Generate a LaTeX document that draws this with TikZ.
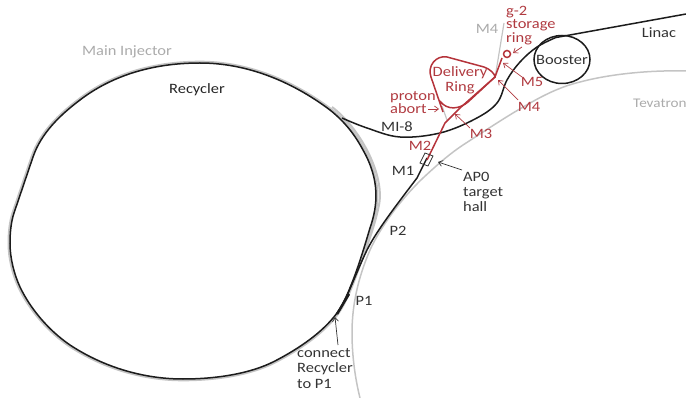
\documentclass[tikz,border=0pt]{standalone}
\usepackage{fontspec}
\setmainfont[FakeStretch=1.15]{Carlito}
\usetikzlibrary{arrows.meta}
\definecolor{redline}{HTML}{B5333A}
\definecolor{redtext}{HTML}{B03A40}
\definecolor{grayline}{HTML}{C4C4C4}
\definecolor{graytext}{HTML}{ABABAB}
\definecolor{blk}{HTML}{1C1C1C}
\definecolor{darktext}{HTML}{333333}
\tikzset{
  lab/.style={font=\fontsize{14.3}{15.3}\selectfont,text=darktext,inner sep=0pt,align=center},
  redlab/.style={lab,text=redtext},
  graylab/.style={lab,text=graytext},
  blackline/.style={draw=blk,line width=1.5pt},
  grayl/.style={draw=grayline,line width=1.5pt},
  redl/.style={draw=redline,line width=1.5pt},
  redarrow/.style={draw=redtext,line width=.7pt,-{Straight Barb[length=4pt,width=6pt]}},
  darkarrow/.style={draw=darktext,line width=.7pt,-{Straight Barb[length=4pt,width=6pt]}},
}
\def\ringpath{(200,63) .. controls (150,63) and (110,77) .. (80,100)
  .. controls (60,115) and (41,133.4) .. (33,157) -- (14,213)
  .. controls (11,222) and (10,233) .. (10,243)
  .. controls (10,258) and (14,274) .. (20,287)
  .. controls (30,308) and (48,330) .. (70,345)
  .. controls (105,368) and (145,379) .. (183,379)
  .. controls (215,379) and (250,374) .. (275,361)
  .. controls (300,348) and (323,332) .. (337,313)
  .. controls (350,295) and (362,255) .. (370,228)
  .. controls (378,205) and (380,180) .. (363,150)
  .. controls (355,135) and (345,122) .. (330,110)
  .. controls (290,80) and (245,63) .. (200,63) -- cycle}
\begin{document}
\begin{tikzpicture}[x=1pt,y=-1pt]
\useasboundingbox (0,0) rectangle (686,398);
% Main Injector (grey)
\begin{scope}[shift={(195,220)},scale=1.007,shift={(-195,-220)}]
\draw[grayl,line width=2.4pt] \ringpath;
\end{scope}
\draw[grayl,line width=2pt] (332,107) .. controls (360,128) and (385,175) .. (379,205)
  .. controls (375,225) and (365,255) .. (350,288);
% Tevatron (grey)
\draw[grayl] (686,71) .. controls (650,70) and (610,74) .. (580,82)
  .. controls (555,88) and (535,100) .. (513,113)
  .. controls (495,124) and (480,134) .. (463,145)
  .. controls (448,155) and (436,166) .. (423,178)
  .. controls (400,200) and (380,228) .. (370,250)
  .. controls (358,278) and (352,305) .. (352,333)
  .. controls (352,355) and (355,378) .. (360,398);
% M4 (grey)
\draw[grayl,line width=1.2pt] (504,23) -- (495,78);
\draw[grayl,line width=1.2pt] (442,106) -- (447,120);
% Recycler (black)
\draw[blackline] \ringpath;
% P1 / P2 / M1
\draw[blackline] (337,314) .. controls (345,304) and (355,275) .. (367,250)
  .. controls (377,230) and (398,203) .. (417,178) -- (423,166) -- (427,158);
\draw[blackline,line width=2.4pt] (337,314) -- (349,294);
% MI-8 and Linac
\draw[blackline] plot[smooth,tension=.6] coordinates {
 (342,118) (367,128) (400,137) (440,133) (475,119) (497,103) (507,80) (520,62) (537,47) (557,37)};
\draw[blackline] (556,37.5) -- (686,14);
% Booster
\draw[blackline] (562,59.5) ellipse [x radius=28,y radius=24];
% Red
\draw[redl] (427,160) -- (445,123) -- (460,108) -- (495,77) -- (502,58);
\draw[redl] (507,54) circle (3.5);
\draw[redl] (443,112) -- (431,77) .. controls (427,66) and (436,55) .. (447,57) -- (484,67)
  .. controls (490,69) and (495,74) .. (495,77) -- (468,102)
  .. controls (460,109) and (447,111) .. (440,101);
% AP0 rect
\draw[draw=darktext,line width=.8pt] (420,163) -- (425,153) -- (433,156) -- (428,166) -- cycle;
% Labels
\node[graylab] (mi) at (127,52) {Main Injector};
\node[lab,text=black!85] (rec) at (197,90) {Recycler};
\node[graylab,anchor=west,font=\fontsize{13.2}{15}\selectfont] (tev) at (633,103) {Tevatron};
\node[graylab] (m4g) at (487,29) {M4};
\node[lab] (linac) at (659,33) {Linac};
\node[lab] (boost) at (562,59.5) {Booster};
\node[lab] (mi8) at (397,127) {MI-8};
\node[lab] (m1) at (403,171) {M1};
\node[lab] (p2) at (398,231) {P2};
\node[lab] (p1) at (364,301) {P1};
\node[lab,align=left,anchor=west] (conn) at (297,368.5) {connect\\Recycler\\to P1};
\node[lab,align=left,anchor=west] (ap0) at (463,192) {AP0\\target\\hall};
\node[redlab,align=left,anchor=west,font=\fontsize{14.3}{13.6}\selectfont] (g2) at (506,25.5) {g-2\\storage\\ring};
\node[redlab] (dr) at (460,80.5) {Delivery\\Ring};
\node[redlab,align=left,anchor=west,font=\fontsize{14.3}{13.4}\selectfont] (abort) at (390,102.5) {proton\\abort};
\node[redlab] (m2) at (420,146) {M2};
\node[redlab] (m3) at (481,134) {M3};
\node[redlab] (m4r) at (529,107) {M4};
\node[redlab] (m5) at (532,82) {M5};
% Arrows
\coordinate (abs) at (428,109);
\coordinate (abe) at (439,109);
\draw[redarrow] (abs) -- (abe);
\coordinate (m3s) at (470,128);
\coordinate (m3e) at (455,114);
\draw[redarrow] (m3s) -- (m3e);
\coordinate (m4s) at (518,100);
\coordinate (m4e) at (498,80);
\draw[redarrow] (m4s) -- (m4e);
\coordinate (m5s) at (522,77);
\coordinate (m5e) at (503,63);
\draw[redarrow] (m5s) -- (m5e);
\coordinate (g2s) at (522,47);
\coordinate (g2e) at (513,53);
\draw[redarrow] (g2s) -- (g2e);
\coordinate (aps) at (462,170);
\coordinate (ape) at (438,162);
\draw[darkarrow] (aps) -- (ape);
\coordinate (cs) at (338,345);
\coordinate (ce) at (335,317);
\draw[darkarrow] (cs) -- (ce);
\end{tikzpicture}
\end{document}
